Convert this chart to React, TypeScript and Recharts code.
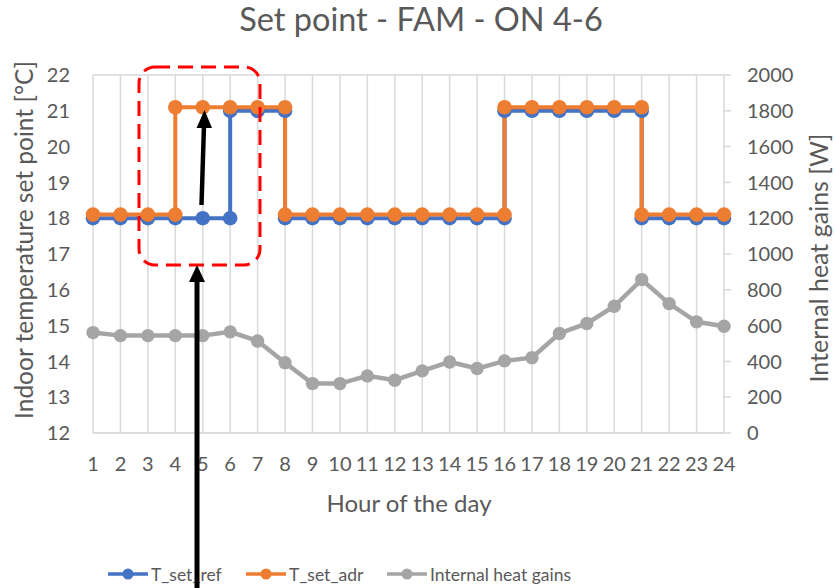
import React from "react";
import { LineChart, Line, XAxis, YAxis, CartesianGrid } from "recharts";

const hours = [1, 2, 3, 4, 5, 6, 7, 8, 9, 10, 11, 12, 13, 14, 15, 16, 17, 18, 19, 20, 21, 22, 23, 24];
const internalGains = [561, 544, 544, 544, 544, 565, 514, 393, 276, 276, 319, 295, 347, 397, 360, 403, 421, 556, 612, 708, 857, 723, 621, 596];

const refHours = [1, 2, 3, 4, 5, 6, 6, 7, 8, 8, 9, 10, 11, 12, 13, 14, 15, 16, 16, 17, 18, 19, 20, 21, 21, 22, 23, 24];
const refValues = [18, 18, 18, 18, 18, 18, 21, 21, 21, 18, 18, 18, 18, 18, 18, 18, 18, 18, 21, 21, 21, 21, 21, 21, 18, 18, 18, 18];

const adrHours = [1, 2, 3, 4, 4, 5, 6, 7, 8, 8, 9, 10, 11, 12, 13, 14, 15, 16, 16, 17, 18, 19, 20, 21, 21, 22, 23, 24];
const adrValues = [18.1, 18.1, 18.1, 18.1, 21.1, 21.1, 21.1, 21.1, 21.1, 18.1, 18.1, 18.1, 18.1, 18.1, 18.1, 18.1, 18.1, 18.1, 21.1, 21.1, 21.1, 21.1, 21.1, 21.1, 18.1, 18.1, 18.1, 18.1];

const leftTicks = [12, 13, 14, 15, 16, 17, 18, 19, 20, 21, 22];
const rightTicks = [0, 200, 400, 600, 800, 1000, 1200, 1400, 1600, 1800, 2000];

const seriesNames = ["T_set_ref", "T_set_adr", "Internal heat gains"];
const seriesColors = ["#4472C4", "#ED7D31", "#A5A5A5"];

const refData = refHours.map((h, i) => ({ hour: h, value: refValues[i] }));
const adrData = adrHours.map((h, i) => ({ hour: h, value: adrValues[i] }));
const gainsData = hours.map((h, i) => ({ hour: h, value: internalGains[i] }));

const FONT = "Lato, 'Open Sans', sans-serif";
const TEXT = "#595959";
const GRID = "#D9D9D9";

const legendX = [108, 246, 387];

export default function App() {
  return (
    <div style={{ position: "absolute", left: 0, top: 0, width: 836, height: 588, background: "#fff", fontFamily: FONT }}>
      <LineChart
        width={836}
        height={588}
        margin={{ top: 75, right: 52, bottom: 125, left: 33 }}
      >
        <CartesianGrid stroke={GRID} strokeWidth={1.5} />
        <XAxis
          dataKey="hour"
          type="number"
          domain={[1, 24]}
          ticks={hours}
          interval={0}
          allowDuplicatedCategory={false}
          tickLine={false}
          tickSize={0}
          tickMargin={24}
          height={30}
          axisLine={{ stroke: GRID, strokeWidth: 1.5 }}
          tick={{ fill: TEXT, fontSize: 20, fontFamily: FONT }}
        />
        <YAxis
          yAxisId="left"
          domain={[12, 22]}
          ticks={leftTicks}
          interval={0}
          width={60}
          tickLine={false}
          tickSize={0}
          tickMargin={23}
          axisLine={false}
          tick={{ fill: TEXT, fontSize: 20, fontFamily: FONT }}
        />
        <YAxis
          yAxisId="right"
          orientation="right"
          domain={[0, 2000]}
          ticks={rightTicks}
          interval={0}
          width={60}
          tickLine={{ stroke: GRID, strokeWidth: 1.5 }}
          tickSize={7}
          tickMargin={16}
          axisLine={false}
          tick={{ fill: TEXT, fontSize: 20, fontFamily: FONT, textAnchor: "start" }}
        />
        <Line
          yAxisId="left"
          data={refData}
          dataKey="value"
          name={seriesNames[0]}
          type="linear"
          stroke={seriesColors[0]}
          strokeWidth={4}
          dot={{ r: 7.3, fill: seriesColors[0], stroke: seriesColors[0], strokeWidth: 0 }}
          isAnimationActive={false}
        />
        <Line
          yAxisId="left"
          data={adrData}
          dataKey="value"
          name={seriesNames[1]}
          type="linear"
          stroke={seriesColors[1]}
          strokeWidth={4}
          dot={{ r: 7.3, fill: seriesColors[1], stroke: seriesColors[1], strokeWidth: 0 }}
          isAnimationActive={false}
        />
        <Line
          yAxisId="right"
          data={gainsData}
          dataKey="value"
          name={seriesNames[2]}
          type="linear"
          stroke={seriesColors[2]}
          strokeWidth={4.5}
          dot={{ r: 6.7, fill: seriesColors[2], stroke: seriesColors[2], strokeWidth: 0 }}
          isAnimationActive={false}
        />
      </LineChart>
      <svg
        width={836}
        height={588}
        style={{ position: "absolute", left: 0, top: 0, pointerEvents: "none" }}
      >
        <text x={421} y={31} textAnchor="middle" fontSize={32.5} fill={TEXT} fontFamily={FONT}>
          Set point - FAM - ON 4-6
        </text>
        <text
          x={0}
          y={0}
          transform="translate(33,240) rotate(-90)"
          textAnchor="middle"
          fontSize={24.5}
          fill={TEXT}
          fontFamily={FONT}
        >
          Indoor temperature set point [°C]
        </text>
        <text
          x={0}
          y={0}
          transform="translate(828,258) rotate(-90)"
          textAnchor="middle"
          fontSize={25}
          fill={TEXT}
          fontFamily={FONT}
        >
          Internal heat gains [W]
        </text>
        <text x={409} y={512} textAnchor="middle" fontSize={24} fill={TEXT} fontFamily={FONT}>
          Hour of the day
        </text>
        {seriesNames.map((name, i) => (
          <g key={name}>
            <line x1={legendX[i]} x2={legendX[i] + 40} y1={574} y2={574} stroke={seriesColors[i]} strokeWidth={3.5} />
            <circle cx={legendX[i] + 20} cy={574} r={5.5} fill={seriesColors[i]} />
            <text x={legendX[i] + 43} y={581} fontSize={17.5} fill={TEXT} fontFamily={FONT}>
              {name}
            </text>
          </g>
        ))}
        <rect
          x={139}
          y={67}
          width={121}
          height={198}
          rx={16}
          ry={16}
          fill="none"
          stroke="#FF0000"
          strokeWidth={3}
          strokeDasharray="15 8"
        />
        <line x1={201.5} y1={205} x2={204} y2={125} stroke="#000" strokeWidth={4.5} />
        <polygon points="204.5,110 196.5,128 212,128" fill="#000" />
        <line x1={197} y1={588} x2={197} y2={278} stroke="#000" strokeWidth={5} />
        <polygon points="197,265 189,282 205,282" fill="#000" />
      </svg>
    </div>
  );
}
